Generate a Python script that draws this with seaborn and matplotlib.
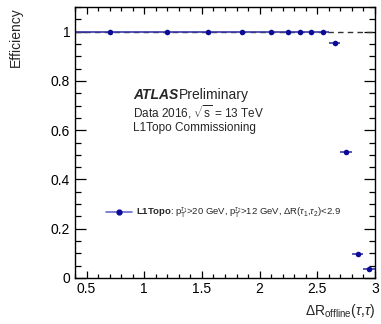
import seaborn as sns
import matplotlib
matplotlib.use("Agg")
import matplotlib.pyplot as plt
from matplotlib.ticker import MultipleLocator
from matplotlib.lines import Line2D
import pandas as pd

# bin centres, half widths and efficiency
dr_center = [0.7, 1.2, 1.55, 1.85, 2.1, 2.25, 2.35, 2.45, 2.55, 2.65, 2.75, 2.85, 2.95]
dr_halfwidth = [0.3, 0.2, 0.15, 0.15, 0.1, 0.05, 0.05, 0.05, 0.05, 0.05, 0.05, 0.05, 0.05]
efficiency = [1.0, 1.0, 1.0, 1.0, 1.0, 1.0, 1.0, 1.0, 1.0, 0.956, 0.51, 0.098, 0.038]

df = pd.DataFrame({'dr': dr_center, 'xerr': dr_halfwidth, 'eff': efficiency})

sns.set_theme(style='ticks')
plt.rcParams['font.family'] = ['Liberation Sans', 'DejaVu Sans']
plt.rcParams['mathtext.fontset'] = 'custom'
plt.rcParams['mathtext.rm'] = 'Liberation Sans'
plt.rcParams['mathtext.it'] = 'Liberation Sans:italic'
plt.rcParams['mathtext.bf'] = 'Liberation Sans:bold'

fig = plt.figure(figsize=(3.81, 3.24), dpi=100)
ax = fig.add_axes([0.197, 0.142, 0.787, 0.836])

navy = '#0b0b96'
ax.axhline(1.0, color='#333333', lw=1.0, ls=(0, (4, 3)), zorder=1)
ax.errorbar(df['dr'], df['eff'], xerr=df['xerr'], fmt='none', ecolor='#3a3aa8', elinewidth=1.2, zorder=2)
sns.scatterplot(data=df, x='dr', y='eff', ax=ax, color=navy, s=16, edgecolor=navy, linewidth=0, zorder=3)

ax.set_xlim(0.4, 3.0)
ax.set_ylim(0, 1.1)
ax.xaxis.set_minor_locator(MultipleLocator(0.1))
ax.yaxis.set_minor_locator(MultipleLocator(0.05))
ax.set_xticks([0.5, 1, 1.5, 2, 2.5, 3])
ax.set_xticklabels(['0.5', '1', '1.5', '2', '2.5', '3'])
ax.set_yticks([0, 0.2, 0.4, 0.6, 0.8, 1])
ax.set_yticklabels(['0', '0.2', '0.4', '0.6', '0.8', '1'])
ax.tick_params(axis='both', which='both', direction='in', top=True, right=True,
               labelsize=10, colors='black', width=0.9)
ax.tick_params(axis='y', which='major', length=8)
ax.tick_params(axis='y', which='minor', length=4.5)
ax.tick_params(axis='x', which='major', length=5)
ax.tick_params(axis='x', which='minor', length=3)
ax.tick_params(axis='x', pad=3)
for sp in ax.spines.values():
    sp.set_linewidth(1.0)
    sp.set_color('black')

ax.set_xlabel(r'$\Delta$R$_{\rm offline}$($\tau$,$\tau$)', fontsize=10, loc='right')
ax.set_ylabel('Efficiency', fontsize=10, loc='top', labelpad=20)

ax.text(0.193, 0.66, 'ATLAS', transform=ax.transAxes, fontsize=10, fontweight='bold', fontstyle='italic')
ax.text(0.345, 0.66, 'Preliminary', transform=ax.transAxes, fontsize=10)
ax.text(0.193, 0.594, r'Data 2016, $\sqrt{\rm s}$ = 13 TeV', transform=ax.transAxes, fontsize=8.5)
ax.text(0.193, 0.542, 'L1Topo Commissioning', transform=ax.transAxes, fontsize=8.5)

handle = Line2D([], [], color='#6a6ad0', lw=1.2, marker='o', markersize=3.5,
                markerfacecolor=navy, markeredgecolor=navy)
ax.legend([handle],
          [r'$\bf{L1Topo}$: p$_{\rm T}^{\tau_1}$>20 GeV, p$_{\rm T}^{\tau_2}$>12 GeV, $\Delta$R($\tau_1$,$\tau_2$)<2.9'],
          loc='center left', bbox_to_anchor=(0.075, 0.24), frameon=False, fontsize=6.8,
          handlelength=2.7, handletextpad=0.5)

fig.savefig('out.png', dpi=100)
